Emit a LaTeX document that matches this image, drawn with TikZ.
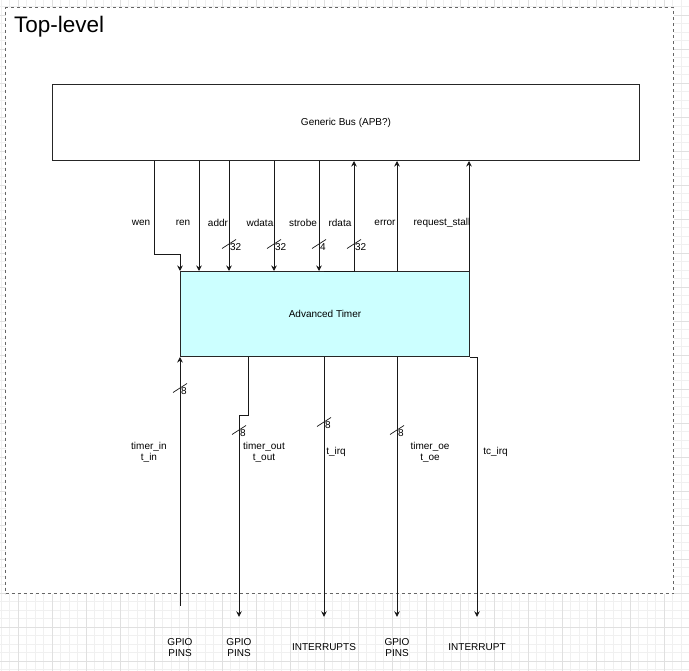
\documentclass[tikz,border=0pt]{standalone}
\usepackage{fontspec}
\setmainfont{Liberation Sans}
\usetikzlibrary{arrows.meta}
\definecolor{timerfill}{HTML}{CCFFFF}
\definecolor{gridminor}{HTML}{F0F0F0}
\definecolor{gridmajor}{HTML}{E0E0E0}

\begin{document}
\begin{tikzpicture}[x=1pt,y=-1pt,
  every node/.style={font=\fontsize{10}{11.5}\selectfont, inner sep=0pt},
  block/.style={draw=black!85, line width=1pt, anchor=north west},
  sig/.style={draw=black!90, line width=0.9pt},
  arr/.style={-{Stealth[length=5.5pt,width=5.5pt]}},
  lbl/.style={align=center},
  pin/.style={align=center, minimum height=61pt},
  tick/.style={draw=black!90, line width=0.7pt},
  bw/.style={anchor=west, inner sep=0.8pt}]

\useasboundingbox (0,0) rectangle (689,671);

% background grid
\foreach \gx in {1.3,9.8,...,689}
	\draw[gridminor, line width=0.8pt] (\gx,0) -- (\gx,671);
\foreach \gy in {6.8,15.3,...,671}
	\draw[gridminor, line width=0.8pt] (0,\gy) -- (689,\gy);
\foreach \gx in {18.3,52.3,...,689}
	\draw[gridmajor, line width=0.8pt] (\gx,0) -- (\gx,671);
\foreach \gy in {15.3,49.3,...,671}
	\draw[gridmajor, line width=0.8pt] (0,\gy) -- (689,\gy);

% top-level frame
\node[draw=black!60, fill=white, line width=1.2pt, dash pattern=on 3pt off 3pt,
  anchor=north west, minimum width=668pt, minimum height=586pt] (top) at (5,7) {};
\node[font=\fontsize{22.5}{26}\selectfont, anchor=base west] (title) at (14,33) {Top-level};

% blocks
\node[block, minimum width=587pt, minimum height=76pt] (bus) at (52,84) {Generic Bus (APB?)};
\node[block, fill=timerfill, minimum width=289pt, minimum height=85pt] (timer) at (180,271) {Advanced Timer};

% line positions
\foreach \n/\px in {wen/154, ren/199, addr/229, wdata/274, strobe/319, rdsrc/324,
  rdata/354, error/397, stall/469, toutsrc/248}
	\coordinate (\n) at (\px,0);
\coordinate (wenbend) at (180,254);
\coordinate (toutbend) at (239,415);

% bus -> timer
\draw[sig,arr] (bus.south -| wen) |- (wenbend) -- (timer.north west);
\foreach \n in {ren,addr,wdata,strobe}
	\draw[sig,arr] (bus.south -| \n) -- (timer.north -| \n);
% timer -> bus
\draw[sig,arr] (timer.north -| rdsrc) -| (bus.south -| rdata);
\foreach \n in {error,stall}
	\draw[sig,arr] (timer.north -| \n) -- (bus.south -| \n);

% signal names
\node (lwen) at (141,223) {wen};
\node (lren) at (183,223) {ren};
\node (laddr) at (218,223) {addr};
\node (lwdata) at (260,223) {wdata};
\node (lstrobe) at (303,223) {strobe};
\node (lrdata) at (340,223) {rdata};
\node (lerror) at (385,223) {error};
\node (lstall) at (442,223) {request\_stall};

% pins
\node[pin] (gpioA) at (180,647.5) {GPIO\\PINS};
\node[pin] (gpioB) at (239,647.5) {GPIO\\PINS};
\node[pin] (intA) at (324,647.5) {INTERRUPTS};
\node[pin] (gpioC) at (397,647.5) {GPIO\\PINS};
\node[pin] (intB) at (477,647.5) {INTERRUPT};

% timer <-> pins
\draw[sig,arr,shorten <=11pt] (gpioA.north) -- (timer.south -| gpioA);
\draw[sig,arr] (timer.south -| toutsrc) |- (toutbend) -- (gpioB.north);
\draw[sig,arr] (timer.south -| intA) -- (intA.north);
\draw[sig,arr] (timer.south -| gpioC) -- (gpioC.north);
\draw[sig,arr] (timer.south east) -| (intB.north);

\node[lbl] (ltin) at (149,452.5) {timer\_in\\t\_in};
\node[lbl] (ltout) at (264,452.5) {timer\_out\\t\_out};
\node[lbl] (ltirq) at (336,452) {t\_irq};
\node[lbl] (ltoe) at (430,452.5) {timer\_oe\\t\_oe};
\node[lbl] (ltcirq) at (495.5,452) {tc\_irq};

% bus widths
\foreach \px/\py/\w [count=\i] in {229/244/32, 274/244/32, 319/244/4, 354/244/32,
  180/388/8, 239/430/8, 324/422/8, 397/430/8} {
	\draw[tick] (\px-7,\py+4.5) -- (\px+7,\py-4.5);
	\node[bw] (bw\i) at (\px,\py+3.5) {\w};
}

\end{tikzpicture}
\end{document}
